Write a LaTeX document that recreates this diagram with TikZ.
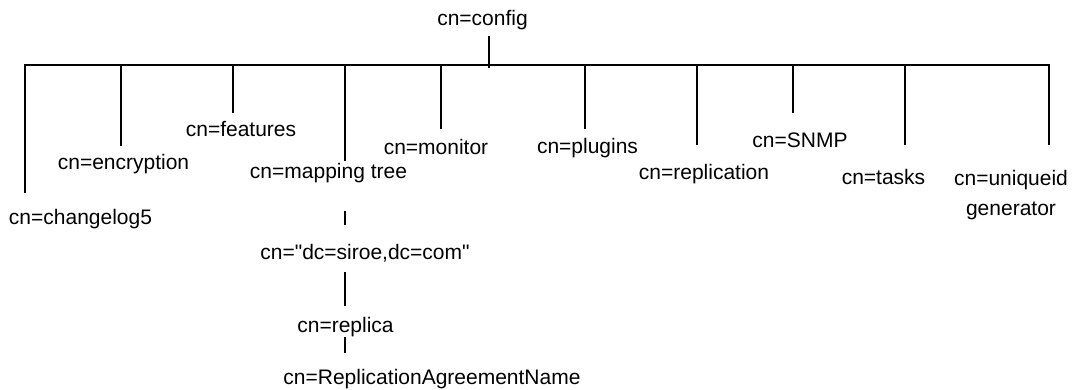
\documentclass[tikz,border=0pt]{standalone}
\usepackage{fontspec}
\setmainfont{Liberation Sans}
\begin{document}
\begin{tikzpicture}[x=1pt,y=-1pt,
  lbl/.style={anchor=base,inner sep=0pt,font=\fontsize{21}{30}\selectfont},
  conn/.style={line width=2pt,black}]
\useasboundingbox (0,0) rectangle (1073,390);
% labels
\node[lbl] (config) at (482.5,26) {cn=config};
\node[lbl] (changelog) at (80.5,225) {cn=changelog5};
\node[lbl] (encryption) at (123.5,170) {cn=encryption};
\node[lbl] (features) at (241,137) {cn=features};
\node[lbl] (mapping) at (328.5,179) {cn=mapping tree};
\node[lbl] (monitor) at (436,155) {cn=monitor};
\node[lbl] (plugins) at (587.5,154) {cn=plugins};
\node[lbl] (replication) at (704,180) {cn=replication};
\node[lbl] (snmp) at (800,148) {cn=SNMP};
\node[lbl] (tasks) at (883.5,185) {cn=tasks};
\node[lbl,align=center] (unique) at (1011,215) {cn=uniqueid\\generator};
\node[lbl] (dc) at (365,259) {cn=\textquotedbl dc=siroe,dc=com\textquotedbl};
\node[lbl] (replica) at (345.5,332) {cn=replica};
\node[lbl] (agreement) at (432,384) {cn=ReplicationAgreementName};
% connector end points
\coordinate (rootA) at (489,36);
\coordinate (rootB) at (489,68);
\coordinate (busL) at (25,65);
\coordinate (busR) at (1049,65);
\coordinate (cl) at (25,193);
\coordinate (en) at (121,146);
\coordinate (fe) at (233,113);
\coordinate (ma) at (345,161);
\coordinate (mo) at (441,129);
\coordinate (pl) at (585,129);
\coordinate (re) at (697,145);
\coordinate (sn) at (793,113);
\coordinate (ta) at (905,145);
\coordinate (un) at (1049,145);
\coordinate (s1a) at (345,211);
\coordinate (s1b) at (345,225);
\coordinate (s2a) at (345,272);
\coordinate (s2b) at (345,306);
\coordinate (s3a) at (345,337);
\coordinate (s3b) at (345,353);
% connectors
\draw[conn] (rootA) -- (rootB);
\draw[conn] (cl) -- (busL) -- (busR) -- (un);
\draw[conn] (en |- busL) -- (en);
\draw[conn] (fe |- busL) -- (fe);
\draw[conn] (ma |- busL) -- (ma);
\draw[conn] (mo |- busL) -- (mo);
\draw[conn] (pl |- busL) -- (pl);
\draw[conn] (re |- busL) -- (re);
\draw[conn] (sn |- busL) -- (sn);
\draw[conn] (ta |- busL) -- (ta);
\draw[conn] (s1a) -- (s1b);
\draw[conn] (s2a) -- (s2b);
\draw[conn] (s3a) -- (s3b);
\end{tikzpicture}
\end{document}
